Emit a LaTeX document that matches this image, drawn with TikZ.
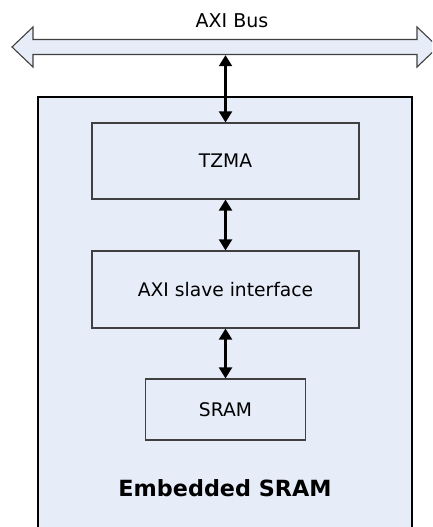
\documentclass[tikz,border=0pt]{standalone}
\usepackage{fontspec}
\setmainfont{DejaVu Sans}
\usetikzlibrary{arrows.meta}
\definecolor{boxfill}{RGB}{230,236,248}
\definecolor{boxline}{RGB}{64,64,64}
\begin{document}
\begin{tikzpicture}[x=1bp,y=-1bp,
  blockbox/.style={draw=boxline,line width=1.2bp,fill=boxfill,inner sep=0pt,
    font=\fontsize{18.7bp}{22bp}\selectfont},
  link/.style={line width=2.2bp,{Triangle[width=13bp,length=11bp]}-{Triangle[width=13bp,length=11bp]}},
  lbl/.style={inner sep=0pt,font=\fontsize{19bp}{22bp}\selectfont}]
\useasboundingbox (0,0) rectangle (432,527);
\clip (0,0) rectangle (432,527);
% outer box
\draw[line width=2.2bp,fill=boxfill] (38,97) rectangle (412,545);
% bus
\draw[line width=1.1bp,draw=boxline,fill=boxfill]
  (12,47) -- (33,27) -- (33,39.5) -- (417,39.5) -- (417,27) -- (438,47)
  -- (417,67) -- (417,54.5) -- (33,54.5) -- (33,67) -- cycle;
\node[lbl] (bus) at (232,21) {AXI Bus};
\coordinate (busb) at (225.5,55.2);
\node[blockbox,minimum width=267bp,minimum height=76bp] (tzma) at (225.5,161) {TZMA};
\node[blockbox,minimum width=267bp,minimum height=77bp] (axi) at (225.5,289.5) {AXI slave interface};
\node[blockbox,minimum width=160bp,minimum height=61bp] (sram) at (225.5,409.5) {SRAM};
\node[lbl,font=\fontsize{22.3bp}{26bp}\selectfont\bfseries] (emb) at (225,488) {Embedded SRAM};
\draw[link] (busb) -- (tzma.north);
\draw[link] (tzma.south) -- (axi.north);
\draw[link] (axi.south) -- (sram.north);
\end{tikzpicture}
\end{document}
